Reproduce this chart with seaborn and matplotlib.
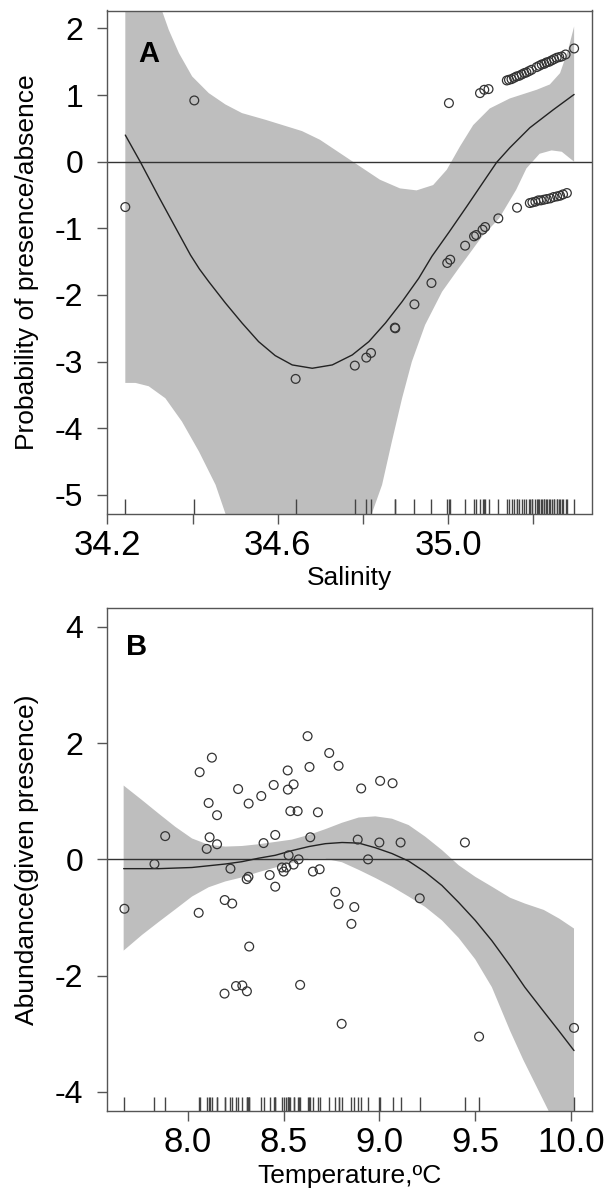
import matplotlib
matplotlib.use("Agg")
import matplotlib.pyplot as plt
import seaborn as sns
import numpy as np

# ---- panel A : salinity (presence / absence) ----
sal_pts_x = [34.242, 34.404, 34.642, 34.781, 34.808, 34.819, 34.875, 34.876, 34.921, 34.961,
             34.998, 35.005, 35.002, 35.040, 35.061, 35.066, 35.081, 35.087, 35.118, 35.162,
             35.075, 35.085, 35.095,
             35.138, 35.143, 35.149, 35.155, 35.161, 35.167, 35.173, 35.179, 35.184, 35.190,
             35.196, 35.208, 35.214, 35.220, 35.226, 35.231, 35.237, 35.243, 35.249, 35.255,
             35.261, 35.267, 35.276, 35.296,
             35.192, 35.198, 35.205, 35.212, 35.218, 35.225, 35.232, 35.240, 35.248, 35.256,
             35.263, 35.270, 35.279]
sal_pts_y = [-0.68, 0.92, -3.26, -3.06, -2.94, -2.87, -2.49, -2.50, -2.14, -1.82,
             -1.52, -1.47, 0.88, -1.26, -1.12, -1.10, -1.02, -0.98, -0.85, -0.69,
             1.03, 1.08, 1.09,
             1.22, 1.23, 1.24, 1.26, 1.28, 1.29, 1.31, 1.33, 1.34, 1.36,
             1.38, 1.42, 1.44, 1.46, 1.47, 1.49, 1.50, 1.52, 1.54, 1.56,
             1.57, 1.58, 1.61, 1.70,
             -0.62, -0.61, -0.60, -0.58, -0.58, -0.57, -0.56, -0.55, -0.53, -0.52,
             -0.51, -0.49, -0.47]

sal_fit_x = [34.242, 34.277, 34.320, 34.360, 34.395, 34.416, 34.438, 34.477, 34.516, 34.555,
             34.594, 34.634, 34.681, 34.728, 34.775, 34.814, 34.853, 34.892, 34.931, 34.962,
             35.003, 35.044, 35.080, 35.114, 35.145, 35.192, 35.247, 35.296]
sal_fit_y = [0.40, 0.00, -0.52, -0.99, -1.40, -1.61, -1.80, -2.12, -2.42, -2.70,
             -2.91, -3.05, -3.10, -3.05, -2.90, -2.70, -2.42, -2.10, -1.75, -1.42,
             -1.05, -0.67, -0.33, -0.01, 0.21, 0.51, 0.78, 1.01]

sal_up_x = [34.242, 34.270, 34.300, 34.328, 34.344, 34.368, 34.399, 34.438, 34.477, 34.516,
            34.571, 34.657, 34.699, 34.746, 34.793, 34.840, 34.887, 34.926, 34.965, 34.997,
            35.028, 35.059, 35.098, 35.145, 35.208, 35.239, 35.263, 35.282, 35.296]
sal_up_y = [4.20, 3.50, 2.80, 2.27, 1.98, 1.63, 1.28, 1.03, 0.86, 0.73,
            0.63, 0.46, 0.33, 0.13, -0.07, -0.27, -0.40, -0.43, -0.35, -0.12,
            0.23, 0.55, 0.80, 0.95, 1.08, 1.16, 1.33, 1.68, 2.03]

sal_lo_x = [34.242, 34.266, 34.297, 34.336, 34.375, 34.415, 34.454, 34.477, 34.550, 34.680,
            34.780, 34.821, 34.845, 34.868, 34.892, 34.915, 34.946, 34.986, 35.025, 35.048,
            35.080, 35.120, 35.160, 35.184, 35.215, 35.243, 35.267, 35.296]
sal_lo_y = [-3.32, -3.32, -3.37, -3.55, -3.90, -4.35, -4.85, -5.28, -6.40, -7.00,
            -6.30, -5.28, -4.85, -4.20, -3.55, -3.00, -2.45, -1.95, -1.60, -1.40,
            -1.12, -0.85, -0.42, -0.10, 0.12, 0.17, 0.15, 0.00]

# ---- panel B : temperature (abundance given presence) ----
tmp_pts_x = [7.668, 7.825, 7.881, 8.056, 8.061, 8.098, 8.108, 8.113, 8.125, 8.152,
             8.152, 8.192, 8.191, 8.222, 8.231, 8.251, 8.262, 8.284, 8.307, 8.308,
             8.316, 8.317, 8.320, 8.383, 8.395, 8.427, 8.448, 8.456, 8.456, 8.491,
             8.500, 8.514, 8.521, 8.522, 8.526, 8.535, 8.552, 8.552, 8.573, 8.578,
             8.586, 8.625, 8.635, 8.639, 8.653, 8.679, 8.688, 8.738, 8.770, 8.787,
             8.787, 8.803, 8.854, 8.869, 8.887, 8.905, 8.941, 9.000, 9.004, 9.069,
             9.111, 9.211, 9.447, 9.521, 10.017]
tmp_pts_y = [-0.85, -0.08, 0.40, -0.92, 1.50, 0.18, 0.97, 0.38, 1.75, 0.76,
             0.26, -0.70, -2.31, -0.16, -0.76, -2.18, 1.21, -2.17, -0.34, -2.27,
             -0.30, 0.96, -1.50, 1.09, 0.28, -0.27, 1.28, 0.42, -0.47, -0.14,
             -0.21, -0.14, 1.53, 1.20, 0.07, 0.83, 1.29, -0.09, 0.83, 0.00,
             -2.16, 2.12, 1.59, 0.38, -0.21, 0.81, -0.17, 1.83, -0.56, -0.77,
             1.61, -2.83, -1.11, -0.82, 0.34, 1.22, 0.00, 0.29, 1.35, 1.31,
             0.29, -0.67, 0.29, -3.05, -2.90]

tmp_fit_x = [7.664, 7.846, 8.021, 8.195, 8.282, 8.369, 8.456, 8.543, 8.631, 8.718,
             8.805, 8.892, 8.979, 9.066, 9.153, 9.240, 9.327, 9.414, 9.501, 9.588,
             9.683, 9.760, 9.859, 9.940, 10.017]
tmp_fit_y = [-0.16, -0.16, -0.14, -0.08, -0.04, 0.02, 0.07, 0.15, 0.22, 0.27,
             0.29, 0.28, 0.20, 0.10, -0.03, -0.22, -0.45, -0.74, -1.05, -1.40,
             -1.83, -2.20, -2.62, -2.96, -3.29]

tmp_up_x = [7.664, 7.760, 7.846, 7.934, 8.021, 8.108, 8.195, 8.282, 8.369, 8.456,
            8.543, 8.631, 8.718, 8.805, 8.892, 8.979, 9.066, 9.153, 9.240, 9.327,
            9.414, 9.501, 9.588, 9.683, 9.760, 9.859, 9.940, 10.017]
tmp_up_y = [1.27, 1.02, 0.79, 0.56, 0.36, 0.25, 0.22, 0.23, 0.26, 0.30,
            0.34, 0.42, 0.52, 0.63, 0.72, 0.74, 0.70, 0.59, 0.39, 0.16,
            -0.10, -0.30, -0.47, -0.66, -0.76, -0.87, -1.02, -1.19]

tmp_lo_x = [7.664, 7.760, 7.846, 7.934, 8.021, 8.108, 8.195, 8.282, 8.369, 8.456,
            8.543, 8.631, 8.718, 8.805, 8.892, 8.979, 9.066, 9.153, 9.240, 9.327,
            9.414, 9.501, 9.588, 9.683, 9.752, 9.883, 9.950, 10.017]
tmp_lo_y = [-1.57, -1.30, -1.08, -0.86, -0.64, -0.48, -0.38, -0.31, -0.22, -0.14,
            -0.06, 0.01, 0.01, -0.05, -0.18, -0.32, -0.47, -0.64, -0.82, -1.05,
            -1.35, -1.72, -2.20, -2.95, -3.45, -4.32, -4.90, -5.40]

sns.set_style("ticks")
plt.rcParams["font.family"] = ["Liberation Sans", "DejaVu Sans"]
plt.rcParams["text.color"] = "black"
plt.rcParams["axes.labelcolor"] = "black"

band_col = "#bebebe"
edge_col = "#555555"

fig = plt.figure(figsize=(6.09, 11.94), dpi=100)
axA = fig.add_axes([107 / 609, 1 - 513.5 / 1194, 485 / 609, 503 / 1194])
axB = fig.add_axes([107 / 609, 1 - 1111 / 1194, 485 / 609, 502.7 / 1194])


def draw_panel(ax, px, py, fx, fy, ux, uy, lx, ly):
    ax.fill(np.r_[ux, lx[::-1]], np.r_[uy, ly[::-1]], color=band_col, lw=0, zorder=1)
    ax.axhline(0, color="#333333", lw=1.0, zorder=2)
    sns.lineplot(x=fx, y=fy, ax=ax, color="#222222", lw=1.0, zorder=3)
    sns.scatterplot(x=px, y=py, ax=ax, marker="o", s=40, facecolor="none",
                    edgecolor="#333333", linewidth=0.9, zorder=4)
    sns.rugplot(x=px, ax=ax, height=0.028, color="#444444", lw=0.8,
                expand_margins=False, zorder=2)
    for sp in ax.spines.values():
        sp.set_color(edge_col)
        sp.set_linewidth(1.0)
    ax.tick_params(axis="both", colors=edge_col, labelcolor="black",
                   length=7.5, width=1.0)
    ax.tick_params(axis="x", labelsize=25, pad=3.5)
    ax.tick_params(axis="y", labelsize=23, pad=9.5)


draw_panel(axA, sal_pts_x, sal_pts_y, sal_fit_x, sal_fit_y,
           sal_up_x, sal_up_y, sal_lo_x, sal_lo_y)
axA.set_xlim(34.199, 35.338)
axA.set_ylim(-5.28, 2.27)
axA.set_xticks([34.2, 34.4, 34.6, 34.8, 35.0, 35.2])
axA.set_xticklabels(["34.2", "", "34.6", "", "35.0", ""])
axA.set_yticks([-5, -4, -3, -2, -1, 0, 1, 2])
axA.set_yticklabels(["-5", "-4", "-3", "-2", "-1", "0", "1", "2"])
axA.set_xlabel("Salinity", fontsize=19, color="black")
axA.set_ylabel("Probability of presence/absence", fontsize=19, color="black")
axA.xaxis.set_label_coords(0.5, -0.105)
axA.yaxis.set_label_coords(-0.14, 0.5)
axA.text(34.272, 1.83, "A", fontsize=21, fontweight="bold", va="top", ha="left",
         color="black")

draw_panel(axB, tmp_pts_x, tmp_pts_y, tmp_fit_x, tmp_fit_y,
           tmp_up_x, tmp_up_y, tmp_lo_x, tmp_lo_y)
axB.set_xlim(7.577, 10.111)
axB.set_ylim(-4.33, 4.32)
axB.set_xticks([8.0, 8.5, 9.0, 9.5, 10.0])
axB.set_xticklabels(["8.0", "8.5", "9.0", "9.5", "10.0"])
axB.set_yticks([-4, -2, 0, 2, 4])
axB.set_yticklabels(["-4", "-2", "0", "2", "4"])
axB.set_xlabel("Temperature,ºC", fontsize=19, color="black")
axB.set_ylabel("Abundance(given presence)", fontsize=19, color="black")
axB.xaxis.set_label_coords(0.5, -0.105)
axB.yaxis.set_label_coords(-0.14, 0.5)
axB.text(7.676, 3.89, "B", fontsize=21, fontweight="bold", va="top", ha="left",
         color="black")

fig.savefig("out.png", dpi=100)
